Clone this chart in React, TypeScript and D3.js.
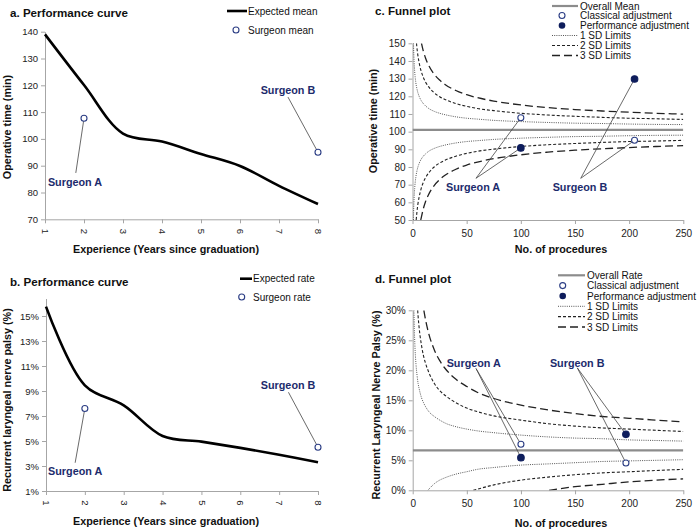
import React, { useEffect, useRef } from 'react';
import * as d3 from 'd3';

const FONT = '"Liberation Sans", Arial, Helvetica, sans-serif';
const NAVY = '#1c2b6c';
const AXIS = '#a6a6a6';

// performance curves (a, b)
const years = [1, 2, 3, 4, 5, 6, 7, 8];
const expectedMean = [139, 120.1, 102, 99, 94.4, 89.9, 82.5, 75.7];
const expectedRate = [15.75, 9.45, 7.85, 5.4, 4.95, 4.45, 3.9, 3.3];
const surgeonMean = [[2, 107.7], [8, 95]];
const surgeonRate = [[2, 7.6], [8, 4.5]];

const timeTicks = [70, 80, 90, 100, 110, 120, 130, 140];
const rateTicks = [1, 3, 5, 7, 9, 11, 13, 15];

// funnel plots (c, d)
const procTicks = [0, 50, 100, 150, 200, 250];
const funnelTimeTicks = [50, 60, 70, 80, 90, 100, 110, 120, 130, 140, 150];
const funnelRateTicks = [0, 5, 10, 15, 20, 25, 30];

const overallMean = 101;
const overallRate = 6.67;
const classicalTime = [[100, 107.9], [205, 95.1]];
const performanceTime = [[100, 90.8], [205, 129.8]];
const classicalRate = [[100, 7.67], [197, 4.56]];
const performanceRate = [[100, 5.44], [197, 9.33]];

// limit curves, [procedures, value]
const timeSd1Upper = [[0.92, 150], [1, 148], [1.5, 139.4], [2, 134.2], [3, 128.1], [4, 124.5], [5, 122], [6, 120.2], [8, 117.6], [10, 115.9], [12, 114.6], [15, 113.1], [20, 111.5], [25, 110.4], [30, 109.6], [40, 108.4], [50, 107.6], [60, 107.1], [75, 106.4], [100, 105.7], [125, 105.2], [150, 104.8], [175, 104.6], [200, 104.3], [225, 104.1], [250, 104]];
const timeSd1Lower = [[0.85, 50], [1, 54], [1.5, 62.6], [2, 67.8], [3, 73.9], [4, 77.5], [5, 80], [6, 81.8], [8, 84.4], [10, 86.1], [12, 87.4], [15, 88.9], [20, 90.5], [25, 91.6], [30, 92.4], [40, 93.6], [50, 94.4], [60, 94.9], [75, 95.6], [100, 96.3], [125, 96.8], [150, 97.2], [175, 97.4], [200, 97.7], [225, 97.9], [250, 98]];
const timeSd2Upper = [[3.7, 150], [4, 148], [5, 143], [6, 139.4], [8, 134.2], [10, 130.7], [12, 128.1], [15, 125.3], [20, 122], [25, 119.8], [30, 118.2], [40, 115.9], [50, 114.3], [60, 113.1], [75, 111.9], [100, 110.4], [125, 109.4], [150, 108.7], [175, 108.1], [200, 107.6], [225, 107.3], [250, 106.9]];
const timeSd2Lower = [[3.4, 50], [4, 54], [5, 59], [6, 62.6], [8, 67.8], [10, 71.3], [12, 73.9], [15, 76.7], [20, 80], [25, 82.2], [30, 83.8], [40, 86.1], [50, 87.7], [60, 88.9], [75, 90.1], [100, 91.6], [125, 92.6], [150, 93.3], [175, 93.9], [200, 94.4], [225, 94.7], [250, 95.1]];
const timeSd3Upper = [[8.3, 150], [10, 145.6], [12, 141.7], [15, 137.4], [20, 132.5], [25, 129.2], [30, 126.7], [40, 123.3], [50, 120.9], [60, 119.2], [75, 117.3], [100, 115.1], [125, 113.6], [150, 112.5], [175, 111.7], [200, 111], [225, 110.4], [250, 109.9]];
const timeSd3Lower = [[7.6, 50], [8, 51.1], [10, 56.4], [12, 60.3], [15, 64.6], [20, 69.5], [25, 72.8], [30, 75.3], [40, 78.7], [50, 81.1], [60, 82.8], [75, 84.7], [100, 86.9], [125, 88.4], [150, 89.5], [175, 90.3], [200, 91], [225, 91.6], [250, 92.1]];

const rateSd1Upper = [[1.15, 30], [1.5, 27], [2, 24.3], [3, 21.1], [4, 19.2], [5, 17.8], [6, 16.9], [8, 15.5], [10, 14.6], [12, 13.9], [15, 13.1], [20, 12.3], [25, 11.7], [30, 11.2], [40, 10.6], [50, 10.2], [60, 9.9], [75, 9.6], [100, 9.2], [125, 8.9], [150, 8.7], [175, 8.6], [200, 8.4], [225, 8.3], [250, 8.2]];
const rateSd1Lower = [[14, 0], [15, 0.2], [20, 1.1], [25, 1.7], [30, 2.1], [40, 2.7], [50, 3.1], [60, 3.5], [75, 3.8], [100, 4.2], [125, 4.4], [150, 4.6], [175, 4.8], [200, 4.9], [225, 5], [250, 5.1]];
const rateSd2Upper = [[4.6, 30], [5, 29], [6, 27], [8, 24.3], [10, 22.4], [12, 21.1], [15, 19.6], [20, 17.8], [25, 16.6], [30, 15.8], [40, 14.6], [50, 13.7], [60, 13.1], [75, 12.4], [100, 11.7], [125, 11.1], [150, 10.7], [175, 10.4], [200, 10.2], [225, 10], [250, 9.8]];
const rateSd2Lower = [[56, 0], [60, 0.2], [75, 0.9], [100, 1.7], [125, 2.2], [150, 2.6], [175, 2.9], [200, 3.1], [225, 3.3], [250, 3.5]];
const rateSd3Upper = [[10.3, 30], [12, 28.3], [15, 26], [20, 23.4], [25, 21.6], [30, 20.3], [40, 18.5], [50, 17.3], [60, 16.3], [75, 15.3], [100, 14.2], [125, 13.4], [150, 12.8], [175, 12.3], [200, 12], [225, 11.7], [250, 11.4]];
const rateSd3Lower = [[126, 0], [150, 0.6], [175, 1], [200, 1.4], [225, 1.7], [250, 1.9]];

// label placement in data units: text centre, leader start
const labelsA = [{ text: 'Surgeon A', tx: 1.77, ty: 83.9, ax: 1.79, ay: 87.3 }, { text: 'Surgeon B', tx: 7.23, ty: 118.2, ax: 7.23, ay: 115.6 }];
const labelsB = [{ text: 'Surgeon A', tx: 1.75, ty: 2.6, ax: 1.75, ay: 3.26 }, { text: 'Surgeon B', tx: 7.23, ty: 9.48, ax: 7.24, ay: 8.9 }];
const labelsC = [{ text: 'Surgeon A', tx: 55.9, ty: 68.8, ax: 58.6, ay: 73.6 }, { text: 'Surgeon B', tx: 154.6, ty: 68.8, ax: 155.3, ay: 73.6 }];
const labelsD = [{ text: 'Surgeon A', tx: 56.4, ty: 21.1, ax: 58.5, ay: 20.3 }, { text: 'Surgeon B', tx: 152, ty: 21.1, ax: 152.1, ay: 20.4 }];

const SD_STYLES = [
  { dash: '1,1.2', width: 1, color: '#555' },
  { dash: '3,2', width: 1.1, color: '#222' },
  { dash: '8,4', width: 1.3, color: '#222' },
];

function styleAxis(g, size) {
  g.attr('font-family', FONT).attr('font-size', size);
  g.select('.domain').attr('stroke', AXIS);
  g.selectAll('.tick line').attr('stroke', AXIS);
  g.selectAll('.tick text').attr('fill', '#222');
}

function addText(g, x, y, str, opts: any = {}) {
  const t = g.append('text')
    .attr('x', x).attr('y', y).attr('dy', '0.35em')
    .attr('font-family', FONT)
    .attr('font-size', opts.size || 10)
    .attr('font-weight', opts.bold ? 'bold' : 'normal')
    .attr('fill', opts.color || '#111')
    .attr('text-anchor', opts.anchor || 'start')
    .text(str);
  if (opts.rotate) t.attr('transform', `rotate(-90,${x},${y})`);
  return t;
}

function drawLabels(g, x, y, labels, targets) {
  labels.forEach((l, i) => {
    targets.forEach(pts => {
      g.append('line')
        .attr('x1', x(l.ax)).attr('y1', y(l.ay))
        .attr('x2', x(pts[i][0])).attr('y2', y(pts[i][1]))
        .attr('stroke', '#444').attr('stroke-width', 0.8);
    });
    addText(g, x(l.tx), y(l.ty), l.text, { bold: true, size: 10.8, color: NAVY, anchor: 'middle' });
  });
}

function drawPoints(g, x, y, pts, filled) {
  g.append('g').selectAll('circle').data(pts).enter().append('circle')
    .attr('cx', d => x(d[0])).attr('cy', d => y(d[1]))
    .attr('r', filled ? 3.3 : 3)
    .attr('fill', filled ? '#0e1d5c' : '#fff')
    .attr('stroke', filled ? '#0e1d5c' : '#2b3d84')
    .attr('stroke-width', 1.1);
}

function drawCurvePanel(svg, p) {
  const x = d3.scaleLinear().domain([1, 8]).range([p.left, p.right]);
  const y = d3.scaleLinear().domain(p.yDomain).range([p.bottom, p.top]);
  const g = svg.append('g');

  const ya = g.append('g').attr('transform', `translate(${p.left},0)`)
    .call(d3.axisLeft(y).tickValues(p.yTicks).tickSize(4).tickSizeOuter(0).tickFormat(p.yFormat));
  styleAxis(ya, 9.5);
  const xa = g.append('g').attr('transform', `translate(0,${p.bottom})`)
    .call(d3.axisBottom(x).tickValues(years).tickSize(4).tickSizeOuter(0).tickFormat(d3.format('d')));
  styleAxis(xa, 9.5);
  xa.selectAll('.tick text')
    .attr('x', 12).attr('y', 0).attr('dy', '0.35em')
    .attr('text-anchor', 'middle').attr('transform', 'rotate(90)');

  const line = d3.line().x(d => x(d[0])).y(d => y(d[1])).curve(d3.curveCatmullRom);
  g.append('path')
    .attr('d', line(years.map((yr, i) => [yr, p.values[i]])))
    .attr('fill', 'none').attr('stroke', '#000').attr('stroke-width', 2.6);

  drawLabels(g, x, y, p.labels, [p.points]);
  drawPoints(g, x, y, p.points, false);

  // titles
  addText(g, 10, p.titleY, p.title, { bold: true, size: 11.6 });
  addText(g, p.yTitleX, p.yTitleY, p.yTitle, { bold: true, size: 10.8, anchor: 'middle', rotate: true });
  addText(g, 166, p.xTitleY, 'Experience (Years since graduation)', { bold: true, size: 10.8, anchor: 'middle' });

  // legend
  const lg = p.legend;
  g.append('line').attr('x1', lg.x0).attr('x2', lg.x1).attr('y1', lg.y0).attr('y2', lg.y0)
    .attr('stroke', '#000').attr('stroke-width', 2.6);
  addText(g, lg.x1 + 1, lg.y0, lg.lineText, { size: 10 });
  g.append('circle').attr('cx', lg.cx).attr('cy', lg.y1).attr('r', 3)
    .attr('fill', '#fff').attr('stroke', '#2b3d84').attr('stroke-width', 1.1);
  addText(g, lg.x1 + 1, lg.y1, lg.pointText, { size: 10 });
}

function drawFunnelPanel(svg, p) {
  const x = d3.scaleLinear().domain([0, 250]).range([p.left, p.right]);
  const y = d3.scaleLinear().domain(p.yDomain).range([p.bottom, p.top]);
  const g = svg.append('g');

  g.append('clipPath').attr('id', p.id)
    .append('rect').attr('x', p.left).attr('y', p.top)
    .attr('width', p.right - p.left).attr('height', p.bottom - p.top);

  const ya = g.append('g').attr('transform', `translate(${p.left},0)`)
    .call(d3.axisLeft(y).tickValues(p.yTicks).tickSize(4).tickSizeOuter(0).tickFormat(p.yFormat));
  styleAxis(ya, 10);
  const xa = g.append('g').attr('transform', `translate(0,${p.bottom})`)
    .call(d3.axisBottom(x).tickValues(procTicks).tickSize(4).tickSizeOuter(0));
  styleAxis(xa, 10);
  xa.selectAll('.tick text').attr('y', 10);

  const plot = g.append('g').attr('clip-path', `url(#${p.id})`);
  plot.append('line')
    .attr('x1', x(0)).attr('x2', x(250)).attr('y1', y(p.overall)).attr('y2', y(p.overall))
    .attr('stroke', '#8c8c8c').attr('stroke-width', 2.2);

  const line = d3.line().x(d => x(d[0])).y(d => y(d[1])).curve(d3.curveMonotoneX);
  p.limits.forEach((pair, k) => {
    pair.forEach(curve => {
      plot.append('path').attr('d', line(curve))
        .attr('fill', 'none')
        .attr('stroke', SD_STYLES[k].color)
        .attr('stroke-width', SD_STYLES[k].width)
        .attr('stroke-dasharray', SD_STYLES[k].dash);
    });
  });

  drawLabels(g, x, y, p.labels, [p.classical, p.performance]);
  drawPoints(g, x, y, p.classical, false);
  drawPoints(g, x, y, p.performance, true);

  addText(g, 375, p.titleY, p.title, { bold: true, size: 11.6 });
  addText(g, p.yTitleX, p.yTitleY, p.yTitle, { bold: true, size: 10.8, anchor: 'middle', rotate: true });
  addText(g, 561, p.xTitleY, 'No. of procedures', { bold: true, size: 10.8, anchor: 'middle' });

  // legend
  const lg = p.legend;
  const rows = lg.rows;
  g.append('line').attr('x1', lg.x0).attr('x2', lg.x1).attr('y1', rows[0]).attr('y2', rows[0])
    .attr('stroke', '#8c8c8c').attr('stroke-width', 2.2);
  g.append('circle').attr('cx', lg.cx).attr('cy', rows[1]).attr('r', 3)
    .attr('fill', '#fff').attr('stroke', '#2b3d84').attr('stroke-width', 1.1);
  g.append('circle').attr('cx', lg.cx).attr('cy', rows[2]).attr('r', 3.3)
    .attr('fill', '#0e1d5c');
  SD_STYLES.forEach((s, k) => {
    g.append('line').attr('x1', lg.x0).attr('x2', lg.x1).attr('y1', rows[3 + k]).attr('y2', rows[3 + k])
      .attr('stroke', s.color).attr('stroke-width', s.width).attr('stroke-dasharray', s.dash);
  });
  [lg.first, 'Classical adjustment', 'Performance adjustment', '1 SD Limits', '2 SD Limits', '3 SD Limits']
    .forEach((t, i) => addText(g, lg.x1 + 2, rows[i], t, { size: 10 }));
}

export default function App() {
  const ref = useRef(null);

  useEffect(() => {
    const svg = d3.select(ref.current);
    svg.selectAll('*').remove();
    const pct = d => d + '%';

    drawCurvePanel(svg, {
      left: 45, right: 318, top: 31.7, bottom: 219.3,
      yDomain: [70, 140], yTicks: timeTicks, yFormat: d3.format('d'),
      values: expectedMean, points: surgeonMean, labels: labelsA,
      title: 'a. Performance curve', titleY: 13,
      yTitle: 'Operative time (min)', yTitleX: 7.5, yTitleY: 127, xTitleY: 249,
      legend: { x0: 227, x1: 247, y0: 11, y1: 30, cx: 236, lineText: 'Expected mean', pointText: 'Surgeon mean' },
    });
    drawCurvePanel(svg, {
      left: 46, right: 318, top: 298.5, bottom: 491,
      yDomain: [1, 16.4], yTicks: rateTicks, yFormat: pct,
      values: expectedRate, points: surgeonRate, labels: labelsB,
      title: 'b. Performance curve', titleY: 281.5,
      yTitle: 'Recurrent laryngeal nerve palsy (%)', yTitleX: 7.5, yTitleY: 400, xTitleY: 521.5,
      legend: { x0: 240, x1: 252, y0: 278.7, y1: 297, cx: 241.7, lineText: 'Expected rate', pointText: 'Surgeon rate' },
    });
    drawFunnelPanel(svg, {
      id: 'clip-c', left: 412.5, right: 683.3, top: 43.3, bottom: 220,
      yDomain: [50, 150], yTicks: funnelTimeTicks, yFormat: d3.format('d'),
      overall: overallMean,
      limits: [[timeSd1Upper, timeSd1Lower], [timeSd2Upper, timeSd2Lower], [timeSd3Upper, timeSd3Lower]],
      classical: classicalTime, performance: performanceTime, labels: labelsC,
      title: 'c. Funnel plot', titleY: 10.5,
      yTitle: 'Operative time (min)', yTitleX: 373.5, yTitleY: 121, xTitleY: 249.5,
      legend: { x0: 552, x1: 578, cx: 562, first: 'Overall Mean', rows: [6, 15.5, 25.5, 35.5, 45.5, 55.5] },
    });
    drawFunnelPanel(svg, {
      id: 'clip-d', left: 412.7, right: 683.3, top: 310.3, bottom: 490.3,
      yDomain: [0, 30], yTicks: funnelRateTicks, yFormat: pct,
      overall: overallRate,
      limits: [[rateSd1Upper, rateSd1Lower], [rateSd2Upper, rateSd2Lower], [rateSd3Upper, rateSd3Lower]],
      classical: classicalRate, performance: performanceRate, labels: labelsD,
      title: 'd. Funnel plot', titleY: 279.3,
      yTitle: 'Recurrent Laryngeal Nerve Palsy (%)', yTitleX: 376, yTitleY: 405, xTitleY: 523,
      legend: { x0: 558, x1: 585, cx: 562.7, first: 'Overall Rate', rows: [275.3, 285.6, 296, 306.3, 316.6, 327] },
    });
  }, []);

  return (
    <svg ref={ref} width={697} height={532}
      style={{ position: 'absolute', left: 0, top: 0, background: '#fff' }} />
  );
}
